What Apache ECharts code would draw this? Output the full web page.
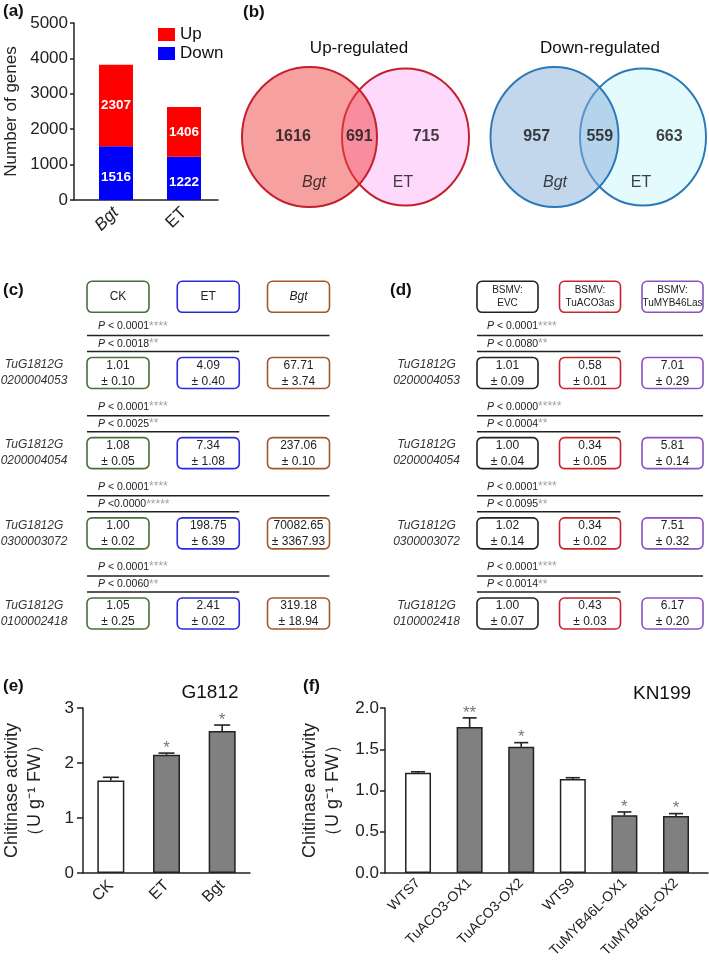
<!DOCTYPE html>
<html><head><meta charset="utf-8">
<script src="https://cdn.jsdelivr.net/npm/echarts@6/dist/echarts.min.js"></script>
<style>html,body{margin:0;padding:0;background:#fff}#c{width:709px;height:970px}</style>
</head><body><div id="c"></div><script>
// ---------------- DATA ----------------
// (a) DEG counts
const aCategories = ['Bgt', 'ET'];
const aUp = [2307, 1406];
const aDown = [1516, 1222];
// (b) Venn counts: [Bgt only, shared, ET only]
const vennUpCounts = [1616, 691, 715];
const vennDownCounts = [957, 559, 663];
const vennSetNames = ['Bgt', 'ET'];
// (c)/(d) genes
const genes = ['TuG1812G0200004053', 'TuG1812G0200004054', 'TuG1812G0300003072', 'TuG1812G0100002418'];
const cHeaders = ['CK', 'ET', 'Bgt'];
const cMeans = [[1.01, 4.09, 67.71], [1.08, 7.34, 237.06], [1.00, 198.75, 70082.65], [1.05, 2.41, 319.18]];
const cErrs = [[0.10, 0.40, 3.74], [0.05, 1.08, 0.10], [0.02, 6.39, 3367.93], [0.25, 0.02, 18.94]];
const cPLong = ['P < 0.0001', 'P < 0.0001', 'P < 0.0001', 'P < 0.0001'];
const cStarsLong = ['****', '****', '****', '****'];
const cPShort = ['P < 0.0018', 'P < 0.0025', 'P <0.0000', 'P < 0.0060'];
const cStarsShort = ['**', '**', '*****', '**'];
const dHeaders = ['BSMV:\nEVC', 'BSMV:\nTuACO3as', 'BSMV:\nTuMYB46Las'];
const dMeans = [[1.01, 0.58, 7.01], [1.00, 0.34, 5.81], [1.02, 0.34, 7.51], [1.00, 0.43, 6.17]];
const dErrs = [[0.09, 0.01, 0.29], [0.04, 0.05, 0.14], [0.14, 0.02, 0.32], [0.07, 0.03, 0.20]];
const dPLong = ['P < 0.0001', 'P < 0.0000', 'P < 0.0001', 'P < 0.0001'];
const dStarsLong = ['****', '*****', '****', '****'];
const dPShort = ['P < 0.0080', 'P < 0.0004', 'P < 0.0095', 'P < 0.0014'];
const dStarsShort = ['**', '**', '**', '**'];
// (e) chitinase G1812
const eCategories = ['CK', 'ET', 'Bgt'];
const eMeans = [1.68, 2.15, 2.58];
const eErrors = [0.06, 0.03, 0.11];
const eStars = ['', '*', '*'];
// (f) chitinase KN199
const fCategories = ['WTS7', 'TuACO3-OX1', 'TuACO3-OX2', 'WTS9', 'TuMYB46L-OX1', 'TuMYB46L-OX2'];
const fMeans = [1.215, 1.77, 1.53, 1.14, 0.70, 0.69];
const fErrors = [0.012, 0.11, 0.05, 0.015, 0.04, 0.03];
const fStars = ['', '**', '*', '', '*', '*'];

// ---------------- LAYOUT / STYLE ----------------
const FONT = '"Liberation Sans", Arial, Helvetica, sans-serif';
const AX = '#222';
const fControls = [0, 3];
const eControls = [0];

const chart = echarts.init(document.getElementById('c'), null, {renderer: 'canvas'});

function txt(x, y, text, font, align) {
  return {type: 'text', silent: true, style: {x: x, y: y, text: text, font: font,
    fill: '#111', align: align || 'left', textAlign: align || 'left', verticalAlign: 'middle', textVerticalAlign: 'middle'}};
}

function vennNameFormatter(p) { return p.value[2] === 'Bgt' ? '{it|Bgt}' : p.value[2]; }
function vennSeries(gi, counts, circles, countX, nameX) {
  return [
    {type: 'scatter', xAxisIndex: gi, yAxisIndex: gi, silent: true, clip: false, symbol: 'circle', z: 1,
      data: circles.map(c => ({value: [c.x, 1], symbolSize: c.size,
        itemStyle: {color: c.fill, borderColor: c.border, borderWidth: 2, opacity: 1}}))},
    {type: 'scatter', xAxisIndex: gi, yAxisIndex: gi, silent: true, clip: false, symbolSize: 1, z: 3,
      itemStyle: {color: 'rgba(0,0,0,0)'},
      data: counts.map((v, i) => [countX[i], 1, v]),
      label: {show: true, position: 'inside', formatter: p => String(p.value[2]),
        fontSize: 16, fontWeight: 'bold', color: '#111', fontFamily: FONT}},
    {type: 'scatter', xAxisIndex: gi, yAxisIndex: gi, silent: true, clip: false, symbolSize: 1, z: 3,
      itemStyle: {color: 'rgba(0,0,0,0)'},
      data: vennSetNames.map((n, i) => [nameX[i], 0, n]),
      label: {show: true, position: 'inside', formatter: vennNameFormatter,
        fontSize: 16, color: '#111', fontFamily: FONT,
        rich: {it: {fontStyle: 'italic', fontSize: 16, color: '#111', fontFamily: FONT}}}}
  ];
}

const P_RICH = {
  i: {fontStyle: 'italic', fontSize: 10.5, fontFamily: FONT, fill: '#222', color: '#222'},
  n: {fontSize: 10.5, fontFamily: FONT, fill: '#222', color: '#222'},
  s: {fontSize: 12, fontFamily: FONT, fill: '#a0a0a0', color: '#a0a0a0', verticalAlign: 'top'}
};
function pText(p, s) { return '{i|' + p.charAt(0) + '}{n|' + p.slice(1) + '}{s|' + s + '}'; }

function rowsSeries(gi, pLong, sLong, pShort, sShort, geneOffset, boxW, indent) {
  return {type: 'custom', xAxisIndex: gi, yAxisIndex: gi, silent: true, clip: false,
    data: genes.map((g, r) => [0, r + 1]), encode: {x: 0, y: 1},
    renderItem: function (params, api) {
      const r = params.dataIndex;
      const row = api.value(1);
      const c0 = api.coord([0, row]), c1 = api.coord([1, row]), c2 = api.coord([2, row]);
      const xl = c0[0] - boxW / 2, xm = c1[0] + boxW / 2, xr = c2[0] + boxW / 2, y = c0[1];
      return {type: 'group', children: [
        {type: 'line', shape: {x1: xl, y1: y - 37.5, x2: xr, y2: y - 37.5}, style: {stroke: '#222', lineWidth: 1.5}},
        {type: 'line', shape: {x1: xl, y1: y - 21.5, x2: xm, y2: y - 21.5}, style: {stroke: '#222', lineWidth: 1.5}},
        {type: 'text', style: {x: xl + indent, y: y - 46.5, text: pText(pLong[r], sLong[r]), rich: P_RICH,
          align: 'left', textAlign: 'left', verticalAlign: 'middle', textVerticalAlign: 'middle'}},
        {type: 'text', style: {x: xl + indent, y: y - 29, text: pText(pShort[r], sShort[r]), rich: P_RICH,
          align: 'left', textAlign: 'left', verticalAlign: 'middle', textVerticalAlign: 'middle'}},
        {type: 'text', style: {x: c0[0] - geneOffset, y: y, text: genes[r].slice(0, 8) + '\n' + genes[r].slice(8),
          font: 'italic 12px ' + FONT, fill: '#333', lineHeight: 16,
          align: 'center', textAlign: 'center', verticalAlign: 'middle', textVerticalAlign: 'middle'}}
      ]};
    }};
}

function boxesSeries(gi, headers, means, errs, colors, boxW, headerFont, headerLH, italicHeader) {
  const cells = [];
  headers.forEach((h, c) => cells.push({v: [c, 0.05], text: h, header: true}));
  means.forEach((row, r) => row.forEach((m, c) => cells.push({v: [c, r + 1],
    text: m.toFixed(2) + '\n\u00b1 ' + errs[r][c].toFixed(2), header: false})));
  return {type: 'custom', xAxisIndex: gi, yAxisIndex: gi, silent: true, clip: false,
    data: cells.map(c => c.v), encode: {x: 0, y: 1},
    renderItem: function (params, api) {
      const cell = cells[params.dataIndex];
      const col = api.value(0);
      const p = api.coord([col, api.value(1)]);
      const h = 31;
      const italic = cell.header && italicHeader === col;
      return {type: 'group', children: [
        {type: 'rect', shape: {x: p[0] - boxW / 2, y: p[1] - h / 2, width: boxW, height: h, r: 5},
          style: {fill: '#fff', stroke: colors[col], lineWidth: 1.6}},
        {type: 'text', style: {x: p[0], y: p[1] + (cell.header ? 0 : 0.5), text: cell.text,
          font: (italic ? 'italic ' : '') + (cell.header ? headerFont : '12px') + ' ' + FONT,
          lineHeight: cell.header ? headerLH : 16, fill: '#222',
          align: 'center', textAlign: 'center', verticalAlign: 'middle', textVerticalAlign: 'middle'}}
      ]};
    }};
}

function errSeries(gi, means, errs, stars, capW) {
  return {type: 'custom', xAxisIndex: gi, yAxisIndex: gi, silent: true, clip: false, z: 5,
    data: means.map((m, i) => [i, m, errs[i]]), encode: {x: 0, y: 1},
    renderItem: function (params, api) {
      const i = api.value(0), m = api.value(1), e = api.value(2);
      const b = api.coord([i, m]), t = api.coord([i, m + e]);
      return {type: 'group', children: [
        {type: 'line', shape: {x1: b[0], y1: b[1], x2: t[0], y2: t[1]}, style: {stroke: '#222', lineWidth: 1.6}},
        {type: 'line', shape: {x1: t[0] - capW / 2, y1: t[1], x2: t[0] + capW / 2, y2: t[1]}, style: {stroke: '#222', lineWidth: 1.6}},
        {type: 'text', style: {x: t[0], y: t[1] - 5, text: stars[params.dataIndex], font: '17px ' + FONT,
          fill: '#777', align: 'center', textAlign: 'center', verticalAlign: 'middle', textVerticalAlign: 'middle'}}
      ]};
    }};
}

const hiddenAxis = (gi, min, max, inverse) => ({gridIndex: gi, type: 'value', min: min, max: max, show: false, inverse: !!inverse});
const axisLineStyle = {show: true, onZero: false, lineStyle: {color: AX, width: 1.5}};

const vs1 = vennSeries(1, vennUpCounts,
  [{x: 1, size: [127, 137], fill: '#ffd9fb', border: '#c2202c'},
   {x: 0, size: [135, 140], fill: 'rgba(239,65,65,0.5)', border: '#c2202c'}],
  [-0.172, 0.519, 1.214], [0.047, 0.974]);
const vs2 = vennSeries(2, vennDownCounts,
  [{x: 1, size: [126, 137], fill: '#e3fbfc', border: '#2a78b8'},
   {x: 0, size: [128, 140], fill: 'rgba(133,173,217,0.5)', border: '#2a78b8'}],
  [-0.201, 0.511, 1.297], [0.006, 0.977]);

const option = {
  animation: false,
  backgroundColor: '#fff',
  textStyle: {fontFamily: FONT},
  grid: [
    {left: 82, top: 23, width: 136, height: 177},             // 0 a bars
    {left: 309.5, top: 137, width: 96, height: 46},           // 1 venn up
    {left: 554.5, top: 137, width: 88.5, height: 46},         // 2 venn down
    {left: 118, top: 292.8, width: 180.5, height: 320.7},     // 3 c
    {left: 507.5, top: 292.8, width: 165, height: 320.7},     // 4 d
    {left: 83, top: 708, width: 167, height: 165},            // 5 e
    {left: 385, top: 708, width: 323, height: 165},           // 6 f
    {left: 74, top: 23, width: 144, height: 177}              // 7 a frame (axes)
  ],
  legend: {data: ['Up', 'Down'], orient: 'vertical', left: 153, top: 20, itemWidth: 17, itemHeight: 13, itemGap: 0,
    icon: 'rect', selectedMode: false, textStyle: {fontSize: 17, color: '#111', fontFamily: FONT, lineHeight: 19}},
  xAxis: [
    {gridIndex: 0, type: 'category', data: aCategories, axisLine: {show: false}, axisTick: {show: false},
      axisLabel: {rotate: 45, margin: 10, fontSize: 17, color: AX, interval: 0,
        formatter: v => v === 'Bgt' ? '{it|Bgt}' : v,
        rich: {it: {fontStyle: 'italic', fontSize: 17, color: AX, fontFamily: FONT}}}},
    hiddenAxis(1, 0, 1), hiddenAxis(2, 0, 1), hiddenAxis(3, 0, 2), hiddenAxis(4, 0, 2),
    {gridIndex: 5, type: 'category', data: eCategories, axisLine: axisLineStyle, axisTick: {show: false},
      axisLabel: {rotate: 45, margin: 10, fontSize: 16, color: AX, interval: 0}},
    {gridIndex: 6, type: 'value', min: -0.64, max: 5.62, axisLine: axisLineStyle, axisTick: {show: false}, splitLine: {show: false},
      axisLabel: {customValues: [0, 1, 2, 3, 4, 5], rotate: 45, margin: 8, fontSize: 14, color: AX,
        formatter: v => fCategories[Math.round(v)]}},
    {gridIndex: 7, type: 'value', min: 0, max: 1, axisLine: axisLineStyle, axisTick: {show: false},
      axisLabel: {show: false}, splitLine: {show: false}}
  ],
  yAxis: [
    hiddenAxis(0, 0, 5000),
    hiddenAxis(1, 0, 1), hiddenAxis(2, 0, 1), hiddenAxis(3, 0, 4, true), hiddenAxis(4, 0, 4, true),
    {gridIndex: 5, type: 'value', min: 0, max: 3, interval: 1, axisLine: axisLineStyle,
      axisTick: {show: true, length: 6, lineStyle: {color: AX, width: 1.5}}, splitLine: {show: false},
      axisLabel: {fontSize: 17, color: AX, margin: 9},
      name: 'Chitinase activity\n\uff08U g\u207b\u00b9 FW\uff09', nameLocation: 'middle', nameGap: 36,
      nameTextStyle: {fontSize: 18, lineHeight: 23, color: AX}},
    {gridIndex: 6, type: 'value', min: 0, max: 2, interval: 0.5, axisLine: axisLineStyle,
      axisTick: {show: true, length: 5, lineStyle: {color: AX, width: 1.5}}, splitLine: {show: false},
      axisLabel: {fontSize: 17, color: AX, margin: 6, formatter: v => v.toFixed(1)},
      name: 'Chitinase activity\n\uff08U g\u207b\u00b9 FW\uff09', nameLocation: 'middle', nameGap: 40,
      nameTextStyle: {fontSize: 18, lineHeight: 23, color: AX}},
    {gridIndex: 7, type: 'value', min: 0, max: 5000, interval: 1000, axisLine: axisLineStyle,
      axisTick: {show: true, length: 4, lineStyle: {color: AX, width: 1.5}}, splitLine: {show: false},
      axisLabel: {fontSize: 17, color: AX, margin: 6, formatter: v => String(v)},
      name: 'Number of genes', nameLocation: 'middle', nameGap: 54, nameTextStyle: {fontSize: 17, color: AX}}
  ],
  series: [
    {type: 'bar', name: 'Down', xAxisIndex: 0, yAxisIndex: 0, stack: 'deg', barWidth: 34,
      data: aDown, itemStyle: {color: '#0000ff'},
      label: {show: true, position: 'inside', offset: [0, 4], color: '#fff', fontWeight: 'bold', fontSize: 13.5}},
    {type: 'bar', name: 'Up', xAxisIndex: 0, yAxisIndex: 0, stack: 'deg', barWidth: 34,
      data: aUp, itemStyle: {color: '#ff0000'},
      label: {show: true, position: 'inside', color: '#fff', fontWeight: 'bold', fontSize: 13.5}},
    ...vs1, ...vs2,
    boxesSeries(3, cHeaders, cMeans, cErrs, ['#456f38', '#2b2bdc', '#a0582e'], 62, '12px', 14, 2),
    rowsSeries(3, cPLong, cStarsLong, cPShort, cStarsShort, 84, 62, 11),
    boxesSeries(4, dHeaders, dMeans, dErrs, ['#222222', '#c8242c', '#8c52c2'], 61, '10px', 12.5, -1),
    rowsSeries(4, dPLong, dStarsLong, dPShort, dStarsShort, 81, 61, 10),
    {type: 'bar', xAxisIndex: 5, yAxisIndex: 5, barWidth: 27, silent: true,
      data: eMeans.map((v, i) => ({value: v, itemStyle: {color: eControls.includes(i) ? '#ffffff' : '#808080',
        borderColor: '#222', borderWidth: 1.5}}))},
    errSeries(5, eMeans, eErrors, eStars, 16),
    {type: 'bar', xAxisIndex: 6, yAxisIndex: 6, barWidth: 26, silent: true,
      data: fMeans.map((v, i) => ({value: [i, v], itemStyle: {color: fControls.includes(i) ? '#ffffff' : '#808080',
        borderColor: '#222', borderWidth: 1.5}})),
      markLine: {silent: true, symbol: 'none', label: {show: false},
        lineStyle: {type: [3, 2], color: '#666', width: 1},
        data: [[{coord: [2.5, 0]}, {coord: [2.5, 2.13]}]]}},
    errSeries(6, fMeans, fErrors, fStars, 14)
  ],
  graphic: [
    txt(3, 11, '(a)', 'bold 17px ' + FONT),
    txt(243, 12, '(b)', 'bold 17px ' + FONT),
    txt(3, 290, '(c)', 'bold 17px ' + FONT),
    txt(390, 290, '(d)', 'bold 17px ' + FONT),
    txt(3, 686, '(e)', 'bold 17px ' + FONT),
    txt(303, 686, '(f)', 'bold 17px ' + FONT),
    txt(359, 48, 'Up-regulated', '17px ' + FONT, 'center'),
    txt(600, 48, 'Down-regulated', '17px ' + FONT, 'center'),
    txt(210, 693, 'G1812', '19px ' + FONT, 'center'),
    txt(662, 694, 'KN199', '19px ' + FONT, 'center')
  ]
};
chart.setOption(option);
</script></body></html>
